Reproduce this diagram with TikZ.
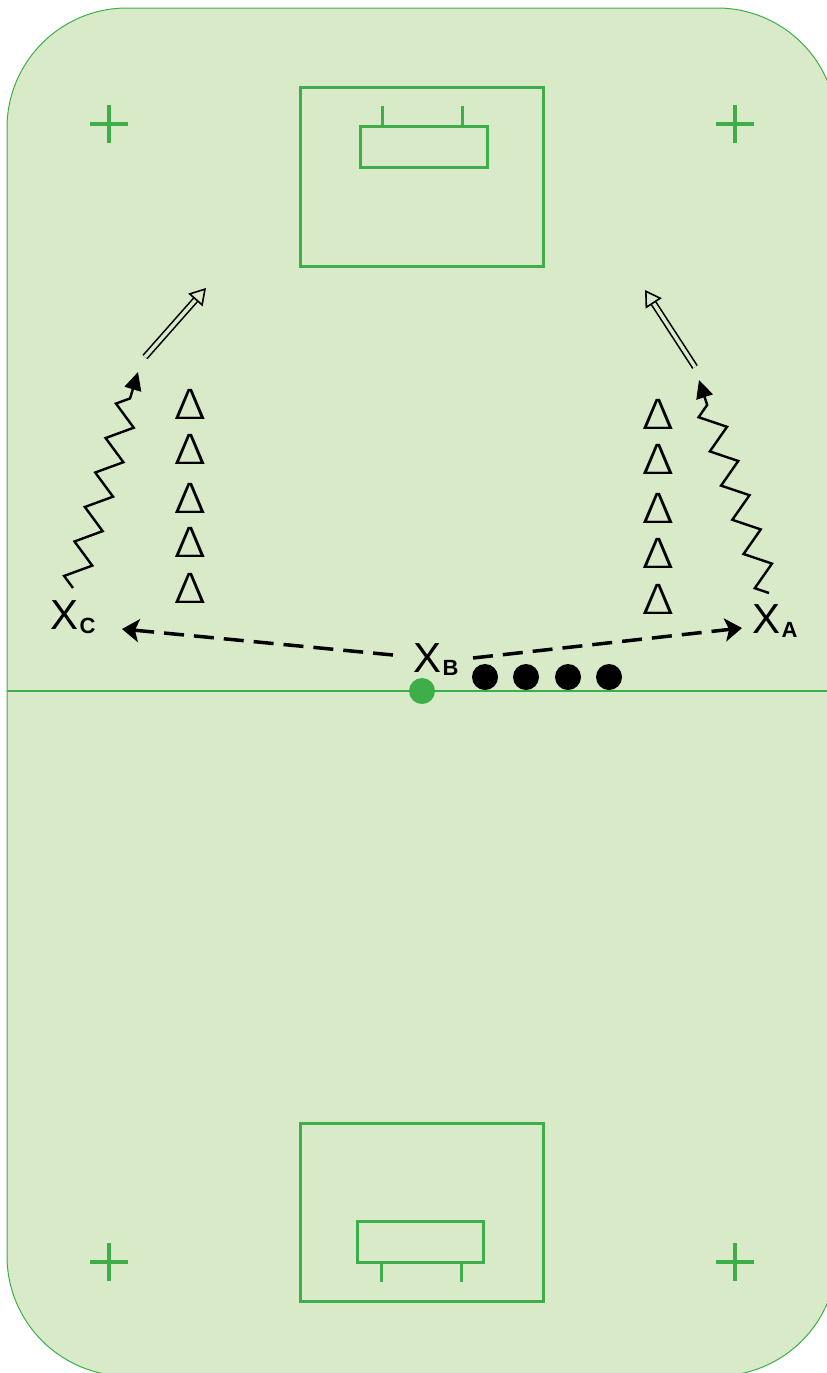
\documentclass[tikz,border=0pt]{standalone}
\usepackage{fontspec}
\setmainfont{Liberation Sans}
\newfontfamily\conefont{Fira Sans Light}
\usetikzlibrary{arrows.meta,decorations.pathmorphing}
\definecolor{rinkfill}{HTML}{D9EAC9}
\definecolor{rinkline}{HTML}{3DAE49}
\begin{document}
\begin{tikzpicture}[x=1pt,y=-1pt,
  rinkedge/.style={draw=rinkline, fill=rinkfill, line width=1pt},
  goalline/.style={draw=rinkline, line width=3pt},
  crossmark/.style={draw=rinkline, line width=4.5pt},
  player/.style={font=\fontsize{42}{42}\selectfont, inner sep=0pt, anchor=base west},
  cone/.style={font=\conefont\fontsize{44}{44}\selectfont, inner sep=0pt, anchor=base},
  puck/.style={circle, fill=black, minimum size=26pt, inner sep=0pt},
  pass/.style={line width=3.5pt, dash pattern=on 20pt off 10pt, -{Stealth[length=17pt,width=23pt,inset=4pt]}},
  skate/.style={line width=2.4pt, decorate, decoration={zigzag, segment length=36pt, amplitude=12pt, post length=12pt}, -{Triangle[length=18pt,width=17pt]}},
  shot/.style={double=rinkfill, double distance=3.5pt, line width=1.6pt, -{Triangle[open, length=16pt, width=19pt, fill=rinkfill]}}
]
\useasboundingbox (0,0) rectangle (827,1373);
\clip (0,0) rectangle (827,1373);
% rink
\draw[rinkedge, rounded corners=120pt] (7,8) rectangle (837,1376);
\draw[draw=rinkline, line width=1.5pt] (7,691) -- (837,691);
% top goal
\draw[goalline] (300,87) rectangle (543,266);
\draw[goalline] (360,126) rectangle (487,167);
\draw[goalline] (382,106) -- (382,126) (462,106) -- (462,126);
% bottom goal
\draw[goalline] (300,1123) rectangle (543,1301);
\draw[goalline] (357,1221) rectangle (483,1262);
\draw[goalline] (381,1262) -- (381,1282) (461,1262) -- (461,1282);
% crosses
\draw[crossmark] (90,124) -- (128,124) (109,105) -- (109,143);
\draw[crossmark] (716,124) -- (754,124) (735,105) -- (735,143);
\draw[crossmark] (90,1262) -- (128,1262) (109,1243) -- (109,1281);
\draw[crossmark] (716,1262) -- (754,1262) (735,1243) -- (735,1281);
% centre dot
\node[circle, fill=rinkline, minimum size=26pt, inner sep=0pt] (centre) at (422,691) {};
% pucks
\node[puck] (p1) at (485,677) {};
\node[puck] (p2) at (526,677) {};
\node[puck] (p3) at (568,677) {};
\node[puck] (p4) at (609,677) {};
% players
\node[player] (xb) at (413,672) {X\kern1.5pt\raisebox{-3pt}{\fontsize{22}{22}\selectfont\bfseries B}};
\node[player] (xc) at (50,629) {X\kern1.5pt\raisebox{-4pt}{\fontsize{22}{22}\selectfont\bfseries C}};
\node[player] (xa) at (752,633) {X\kern1.5pt\raisebox{-4pt}{\fontsize{22}{22}\selectfont\bfseries A}};
% cones left
\foreach \y [count=\i] in {419,464,513,557,603} \node[cone] (cl\i) at (190,\y) {\scalebox{1.25}[1]{Δ}};
% cones right
\foreach \y [count=\i] in {429,474,523,568,614} \node[cone] (cr\i) at (658,\y) {\scalebox{1.25}[1]{Δ}};
% pass ends
\coordinate (bl) at (393,655);
\coordinate (cpass) at (122,629);
\coordinate (br) at (473,658);
\coordinate (apass) at (742,628);
\draw[pass] (bl) -- (cpass);
\draw[pass] (br) -- (apass);
% skating
\coordinate (cs1) at (73,588);
\coordinate (cs2) at (138,372);
\coordinate (as1) at (769,593);
\coordinate (as2) at (699,380);
\draw[skate] (cs1) -- (cs2);
\draw[skate] (as1) -- (as2);
% shots
\coordinate (ch1) at (145,357);
\coordinate (ch2) at (206,288);
\coordinate (ah1) at (695,367);
\coordinate (ah2) at (645,290);
\draw[shot] (ch1) -- (ch2);
\draw[shot] (ah1) -- (ah2);
\end{tikzpicture}
\end{document}
